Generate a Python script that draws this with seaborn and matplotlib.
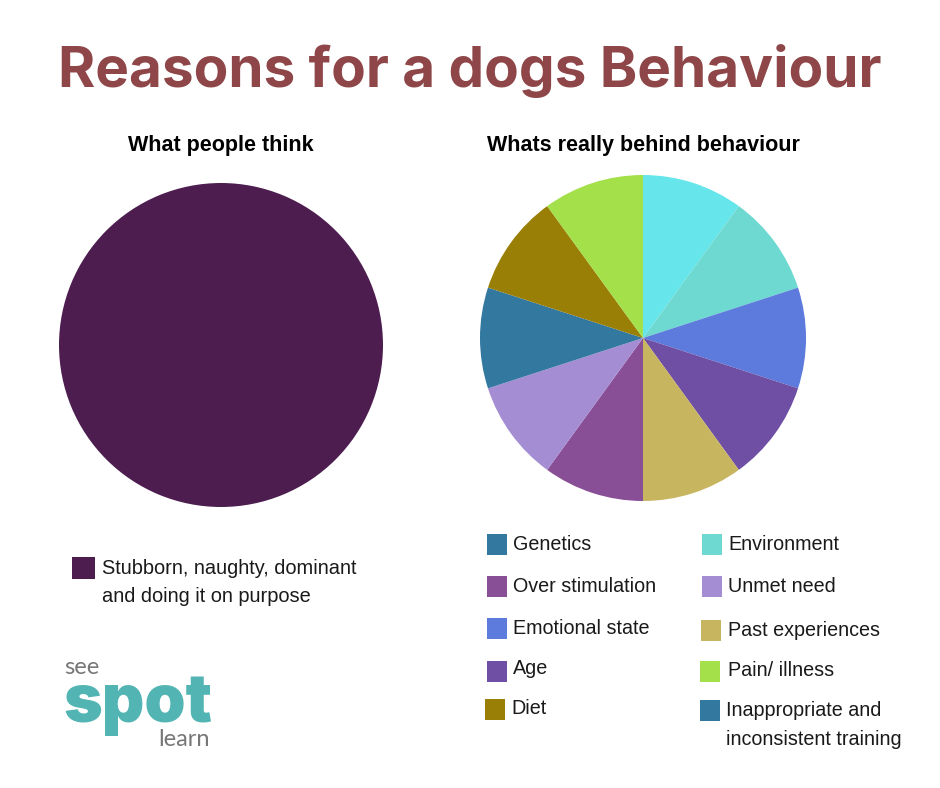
import matplotlib
matplotlib.use('Agg')
import matplotlib.pyplot as plt
from matplotlib.patches import Rectangle
import seaborn as sns

W, H = 940, 788

left_labels = ['Stubborn, naughty, dominant\nand doing it on purpose']
left_values = [100]
left_colors = ['#4D1D50']

right_values = [10, 10, 10, 10, 10, 10, 10, 10, 10, 10]
right_colors = ['#66E6EA', '#6DD9D0', '#5C7BDC', '#6E4FA3', '#C8B560',
                '#884E96', '#A58DD3', '#33789F', '#9A7F06', '#A4E04A']

legend_labels = ['Genetics', 'Over stimulation', 'Emotional state', 'Age', 'Diet',
                 'Environment', 'Unmet need', 'Past experiences', 'Pain/ illness',
                 'Inappropriate and\ninconsistent training']
legend_colors = ['#33789F', '#884E96', '#5C7BDC', '#6E4FA3', '#9A7F06',
                 '#6DD9D0', '#A58DD3', '#C8B560', '#A4E04A', '#33789F']
# swatch left, swatch top, text left, text centre (pixels)
legend_pos = [(487, 534, 513, 544), (487, 576, 513, 587), (487, 618, 513, 629),
              (487, 661, 513, 669), (485, 699, 511, 709),
              (702, 534, 728, 544), (702, 576, 728, 587), (701, 620, 728, 631),
              (700, 661, 728, 671), (700, 700, 726, 725)]

sns.set_theme(style='white')
plt.rcParams['font.family'] = ['Liberation Sans', 'DejaVu Sans']

fig = plt.figure(figsize=(W / 100, H / 100), dpi=100, facecolor='white')

# overlay in pixel coordinates for all the free text
bg = fig.add_axes([0, 0, 1, 1])
bg.set_xlim(0, W)
bg.set_ylim(H, 0)
bg.axis('off')


def pie_axes(cx, cy, r):
    return fig.add_axes([(cx - r) / W, 1 - (cy + r) / H, 2 * r / W, 2 * r / H])


ax1 = pie_axes(221, 345, 162)
ax1.pie(left_values, colors=sns.color_palette(left_colors), radius=1,
        startangle=90, counterclock=False, wedgeprops={'linewidth': 0})
ax1.set_xlim(-1, 1)
ax1.set_ylim(-1, 1)

ax2 = pie_axes(643, 338, 163)
ax2.pie(right_values, colors=sns.color_palette(right_colors), radius=1,
        startangle=90, counterclock=False, wedgeprops={'linewidth': 0})
ax2.set_xlim(-1, 1)
ax2.set_ylim(-1, 1)

bg.text(470, 71, 'Reasons for a dogs Behaviour', ha='center', va='center',
        fontsize=40.8, fontweight='bold', color='#8E4648', family='Inter')
bg.text(221, 145, 'What people think', ha='center', va='center',
        fontsize=15.5, fontweight='bold', color='black')
bg.text(643, 145, 'Whats really behind behaviour', ha='center', va='center',
        fontsize=15.5, fontweight='bold', color='black')

bg.add_patch(Rectangle((72, 557), 23, 22, color=left_colors[0], lw=0))
bg.text(102, 583, left_labels[0], ha='left', va='center', fontsize=14.4,
        color='#1a1a1a', linespacing=1.6)

for lab, col, (sx, sy, tx, ty) in zip(legend_labels, legend_colors, legend_pos):
    bg.add_patch(Rectangle((sx, sy), 20, 21, color=col, lw=0))
    bg.text(tx, ty, lab, ha='left', va='center', fontsize=14.2, color='#1a1a1a',
            linespacing=1.65)

# logo
bg.text(82, 667, 'see', ha='center', va='center', fontsize=17, color='#777777',
        family='Lato')
bg.text(138, 705, 'spot', ha='center', va='center', fontsize=47.5, color='#52B5B3',
        family='Inter', fontweight='black')
bg.text(184, 740, 'learn', ha='center', va='center', fontsize=17, color='#777777',
        family='Lato')

fig.savefig('out.png', dpi=100, facecolor='white')
